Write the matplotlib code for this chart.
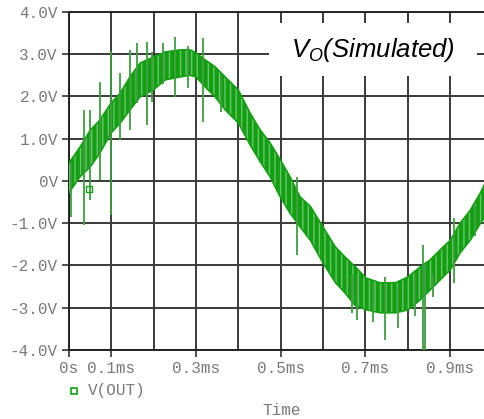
import matplotlib
matplotlib.use("Agg")
import matplotlib.pyplot as plt
from matplotlib.patches import Rectangle

# envelope of the noisy V(OUT) band (time in ms, volts)
t_ms = [0.000, 0.026, 0.050, 0.073, 0.099, 0.121, 0.144, 0.168, 0.199, 0.227,
        0.262, 0.286, 0.300, 0.322, 0.345, 0.369, 0.400, 0.428, 0.452, 0.475,
        0.499, 0.522, 0.546, 0.570, 0.600, 0.629, 0.652, 0.676, 0.702, 0.735,
        0.771, 0.801, 0.830, 0.853, 0.877, 0.901, 0.924, 0.948, 0.972, 0.983]
v_hi = [0.43, 0.80, 1.20, 1.44, 1.84, 2.08, 2.46, 2.79, 2.93, 3.05,
        3.10, 3.10, 3.03, 2.86, 2.70, 2.46, 2.15, 1.60, 1.20, 0.90,
        0.50, 0.10, -0.38, -0.60, -1.09, -1.56, -1.80, -2.03, -2.30, -2.41,
        -2.41, -2.27, -2.03, -1.87, -1.63, -1.40, -1.00, -0.69, -0.28, -0.05]
v_lo = [-0.28, 0.10, 0.33, 0.66, 1.13, 1.37, 1.68, 1.99, 2.15, 2.39,
        2.46, 2.50, 2.46, 2.22, 1.99, 1.68, 1.37, 0.85, 0.45, 0.10,
        -0.38, -0.76, -1.09, -1.40, -1.94, -2.40, -2.65, -2.95, -3.05, -3.12,
        -3.12, -3.05, -2.81, -2.58, -2.34, -2.10, -1.70, -1.40, -1.00, -0.85]

# single glitches sticking out of the band
spike_t = [0.005, 0.035, 0.050, 0.073, 0.099, 0.121, 0.144, 0.161, 0.184, 0.196,
           0.222, 0.251, 0.281, 0.317, 0.359, 0.539, 0.669, 0.681, 0.719, 0.747,
           0.778, 0.818, 0.837, 0.842, 0.861, 0.910, 0.960]
spike_hi = [0.43, 1.68, 1.68, 2.34, 3.08, 2.55, 3.10, 3.26, 3.29, 3.05,
            3.26, 3.40, 3.20, 3.38, 2.50, 0.10, -2.20, -2.30, -2.40, -2.27,
            -2.50, -2.20, -1.51, -2.00, -2.20, -0.87, -0.60]
spike_lo = [-0.85, -1.04, -0.45, 0.02, -0.80, 0.97, 1.20, 1.84, 1.32, 1.87,
            2.30, 1.99, 2.20, 1.40, 1.63, -1.75, -3.12, -3.29, -3.33, -3.76,
            -3.47, -3.20, -4.00, -4.00, -2.74, -2.41, -1.30]

marker_t = [0.047]
marker_v = [-0.19]

x_ticks = [0.0, 0.1, 0.3, 0.5, 0.7, 0.9]
x_labels = ["0s", "0.1ms", "0.3ms", "0.5ms", "0.7ms", "0.9ms"]
x_grid = [0.2, 0.4, 0.6, 0.8]
y_ticks = [-4, -3, -2, -1, 0, 1, 2, 3, 4]
y_labels = ["-4.0V", "-3.0V", "-2.0V", "-1.0V", "0V", "1.0V", "2.0V", "3.0V", "4.0V"]

plt.rcParams["mathtext.fontset"] = "custom"
plt.rcParams["mathtext.it"] = "Liberation Sans:italic"
plt.rcParams["mathtext.rm"] = "Liberation Sans:italic"
plt.rcParams["hatch.linewidth"] = 1.0

mono = "Liberation Mono"
grey = "#7a7a7a"
green = "#12a012"

fig = plt.figure(figsize=(4.85, 4.19), dpi=100)
ax = fig.add_axes([0.1423, 0.1647, 0.858, 0.807])

ax.fill_between(t_ms, v_lo, v_hi, facecolor=green, edgecolor="#6cc46c",
                hatch="|||", linewidth=0, zorder=4)
ax.plot(t_ms, v_hi, color=green, lw=1.2, zorder=4)
ax.plot(t_ms, v_lo, color=green, lw=1.2, zorder=4)
ax.vlines(spike_t, spike_lo, spike_hi, color="#3d9e3d", lw=1.3, zorder=5)
ax.plot(marker_t, marker_v, ls="none", marker="s", ms=4, mfc="none",
        mec=green, mew=1, zorder=6)

ax.set_xlim(0, 0.983)
ax.set_ylim(-4, 4)
ax.set_xticks(x_ticks)
ax.set_xticklabels(x_labels)
ax.set_xticks(x_grid, minor=True)
ax.set_yticks(y_ticks)
ax.set_yticklabels(y_labels)
ax.tick_params(axis="both", which="major", length=5, width=1.2, color="#333333",
               labelcolor=grey, labelsize=11.5, pad=3)
ax.tick_params(axis="x", which="minor", length=0)
for lab in ax.get_xticklabels() + ax.get_yticklabels():
    lab.set_family(mono)

ax.grid(True, which="both", color="#3a3a3a", lw=1.4, zorder=1)
ax.set_axisbelow(True)
ax.spines["right"].set_visible(False)
for s in ["left", "bottom", "top"]:
    ax.spines[s].set_color("#222222")
    ax.spines[s].set_linewidth(1.4)

# white box behind the label
ax.add_patch(Rectangle((0.481, 0.811), 0.5, 0.156, transform=ax.transAxes,
                       facecolor="white", edgecolor="none", zorder=3))
ax.text(0.731, 0.888, r"$V_O$(Simulated)", transform=ax.transAxes,
        ha="center", va="center", fontsize=18.5, family="Liberation Sans",
        style="italic", zorder=6)

# PSpice style legend and axis title
fig.add_artist(plt.Line2D([74 / 485], [1 - 391 / 419], marker="s", ms=4,
                          mfc="none", mec=green, mew=1.2, ls="none"))
fig.text(88 / 485, 1 - 391 / 419, "V(OUT)", family=mono, color=grey,
         fontsize=11.5, va="center")
fig.text(282 / 485, 1 - 410 / 419, "Time", family=mono, color=grey,
         fontsize=11.5, ha="center", va="center")

fig.savefig("out.png", dpi=100, facecolor="white")
